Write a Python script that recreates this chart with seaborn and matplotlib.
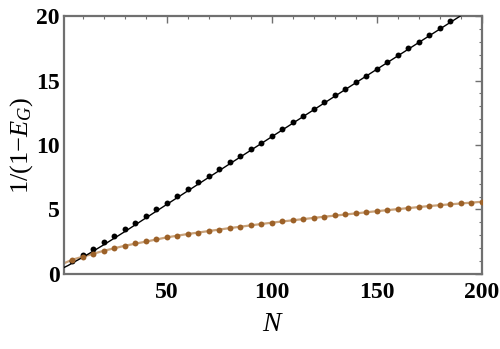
import matplotlib
matplotlib.use("Agg")
import matplotlib.pyplot as plt
import seaborn as sns
import pandas as pd
from matplotlib.ticker import MultipleLocator

# ---- data ----
black_n = [5, 10, 15, 20, 25, 30, 35, 40, 45, 50, 55, 60, 65, 70, 75, 80, 85, 90, 95,
           100, 105, 110, 115, 120, 125, 130, 135, 140, 145, 150, 155, 160, 165, 170,
           175, 180, 185]
black_vals = [1.02, 1.50, 1.94, 2.48, 2.97, 3.47, 3.98, 4.50, 5.02, 5.53, 6.02, 6.57,
              7.11, 7.62, 8.12, 8.66, 9.17, 9.69, 10.18, 10.72, 11.22, 11.78, 12.27,
              12.79, 13.33, 13.85, 14.36, 14.86, 15.39, 15.91, 16.43, 16.98, 17.50,
              17.98, 18.53, 19.05, 19.59]

brown_n = [5, 10, 15, 20, 25, 30, 35, 40, 45, 50, 55, 60, 65, 70, 75, 80, 85, 90, 95,
           100, 105, 110, 115, 120, 125, 130, 135, 140, 145, 150, 155, 160, 165, 170,
           175, 180, 185, 190, 195, 200]
brown_vals = [1.11, 1.34, 1.57, 1.81, 1.99, 2.19, 2.38, 2.52, 2.69, 2.84, 2.96, 3.10,
              3.20, 3.33, 3.44, 3.56, 3.66, 3.76, 3.88, 3.98, 4.07, 4.16, 4.25, 4.34,
              4.44, 4.54, 4.63, 4.71, 4.80, 4.87, 4.94, 5.02, 5.10, 5.19, 5.27, 5.34,
              5.41, 5.47, 5.53, 5.60]

black_fit_n = [1, 3, 5, 8, 10, 15, 20, 30, 50, 100, 150, 193]
black_fit_vals = [0.50, 0.66, 0.85, 1.12, 1.30, 1.78, 2.27, 3.29, 5.40, 10.65, 15.88, 20.35]

brown_fit_n = [1, 2, 3, 5, 10, 15, 20, 30, 40, 50, 60, 80, 100, 125, 150, 175, 200]
brown_fit_vals = [0.83, 0.90, 0.97, 1.11, 1.34, 1.57, 1.80, 2.19, 2.51, 2.84, 3.10,
                  3.56, 3.98, 4.44, 4.87, 5.27, 5.60]

x_ticks = [50, 100, 150, 200]
y_ticks = [0, 5, 10, 15, 20]

# ---- style ----
sns.set_style("white")
plt.rcParams['font.family'] = ['Liberation Serif', 'DejaVu Serif']
plt.rcParams['mathtext.fontset'] = 'custom'
plt.rcParams['mathtext.rm'] = 'Liberation Serif'
plt.rcParams['mathtext.it'] = 'Liberation Serif:italic'
plt.rcParams['mathtext.bf'] = 'Liberation Serif:bold'

frame_col = '#707070'
dot_brown = '#9c6128'
line_brown = '#c9a27a'

fig = plt.figure(figsize=(5.0, 3.49), dpi=100)
ax = fig.add_axes([0.128, 0.215, 0.836, 0.739])

df_bfit = pd.DataFrame({'N': black_fit_n, 'v': black_fit_vals})
df_rfit = pd.DataFrame({'N': brown_fit_n, 'v': brown_fit_vals})
df_b = pd.DataFrame({'N': black_n, 'v': black_vals})
df_r = pd.DataFrame({'N': brown_n, 'v': brown_vals})

sns.lineplot(data=df_rfit, x='N', y='v', ax=ax, color=line_brown, lw=1.6, zorder=2)
sns.lineplot(data=df_bfit, x='N', y='v', ax=ax, color='black', lw=1.0, zorder=3)
sns.scatterplot(data=df_b, x='N', y='v', ax=ax, color='black', s=18, linewidth=0, zorder=4)
sns.scatterplot(data=df_r, x='N', y='v', ax=ax, color=dot_brown, s=18, linewidth=0, zorder=5)

ax.set_xlim(1, 200)
ax.set_ylim(0, 20)
ax.set_xticks(x_ticks)
ax.set_yticks(y_ticks)
ax.xaxis.set_minor_locator(MultipleLocator(10))
ax.yaxis.set_minor_locator(MultipleLocator(1))
ax.tick_params(which='both', direction='in', top=True, right=True,
               colors=frame_col, labelcolor='black', labelsize=17)
ax.tick_params(axis='x', which='major', pad=6)
ax.tick_params(axis='y', which='major', pad=3)
ax.tick_params(which='major', length=5, width=1.0)
ax.tick_params(which='minor', length=2.5, width=0.8)
for lab in ax.get_xticklabels() + ax.get_yticklabels():
    lab.set_fontweight('bold')
for s in ax.spines.values():
    s.set_color(frame_col)
    s.set_linewidth(1.6)

ax.set_xlabel(r'$N$', fontsize=20, labelpad=6, color='black')
ax.set_ylabel(r'$1/(1\mathrm{-}E_G)$', fontsize=19, labelpad=1, color='black')

fig.savefig('out.png', dpi=100)
